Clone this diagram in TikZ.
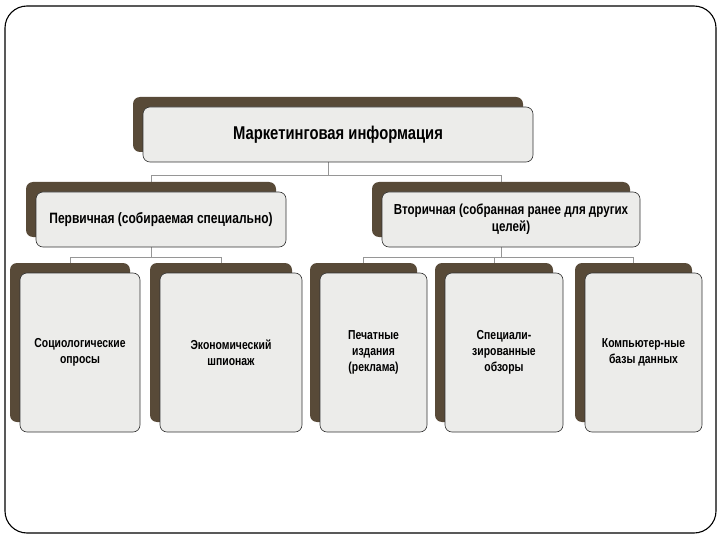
\documentclass[tikz,border=0pt]{standalone}
\usepackage{fontspec}
\setmainfont[FakeStretch=0.8]{Liberation Sans}
\usetikzlibrary{shadows, calc, backgrounds}

\definecolor{backbrown}{RGB}{88,74,56}
\definecolor{frontgray}{RGB}{236,236,234}
\definecolor{linegray}{RGB}{150,150,150}

\tikzset{
  card/.style={draw=black!80, line width=.6pt, fill=frontgray, rounded corners=7pt, align=center,
    font=\bfseries, inner sep=2pt,
    general shadow={shadow xshift=-10pt, shadow yshift=10pt, fill=backbrown, draw=none}},
  leaf/.style={card, minimum height=159pt, font=\bfseries\fontsize{13}{16}\selectfont},
  link/.style={draw=linegray, line width=.6pt}
}

\begin{document}
\begin{tikzpicture}[x=1pt, y=-1pt]
		\useasboundingbox (0,0) rectangle (720,540);
		\draw[line width=1.1pt, rounded corners=22pt] (5,6) rectangle (716,533);

		\node[card, minimum width=390pt, minimum height=55pt, font=\bfseries\fontsize{18.5}{20}\selectfont] (info) at (338,134.5) {Маркетинговая информация};

		\node[card, minimum width=250pt, minimum height=55pt, font=\bfseries\fontsize{15}{17}\selectfont] (prim) at (161,219.5) {Первичная (собираемая специально)};
		\node[card, minimum width=258pt, minimum height=55pt, font=\bfseries\fontsize{14.5}{17}\selectfont] (sec) at (511,219.5) {Вторичная (собранная ранее для других\\ целей)};

		\node[leaf, minimum width=120pt] (soc) at (80,352.5) {Социологические\\опросы};
		\node[leaf, minimum width=142pt] (spy) at (231,352.5) {Экономический\\шпионаж};
		\node[leaf, minimum width=107pt] (print) at (373.5,352.5) {Печатные\\издания\\(реклама)};
		\node[leaf, minimum width=118pt] (rev) at (504,352.5) {Специали-\\зированные\\обзоры};
		\node[leaf, minimum width=117pt] (db) at (643.5,352.5) {Компьютер-ные\\базы данных};

		\begin{scope}[on background layer]
		\draw[link] ($(info.south)+(-10,0)$) -- ++(0,13) -| ($(prim.north)+(-10,-10)$);
		\draw[link] ($(info.south)+(-10,13)$) -| ($(sec.north)+(-10,-10)$);

		\draw[link] ($(prim.south)+(-10,0)$) -- ++(0,10) -| ($(soc.north)+(-10,-10)$);
		\draw[link] ($(prim.south)+(-10,10)$) -| ($(spy.north)+(-10,-10)$);

		\draw[link] ($(sec.south)+(-10,0)$) -- ++(0,10) -| ($(print.north)+(-10,-10)$);
		\draw[link] ($(sec.south)+(-10,10)$) -| ($(rev.north)+(-10,-10)$);
		\draw[link] ($(sec.south)+(-10,10)$) -| ($(db.north)+(-10,-10)$);
		\end{scope}
	\end{tikzpicture}
\end{document}
